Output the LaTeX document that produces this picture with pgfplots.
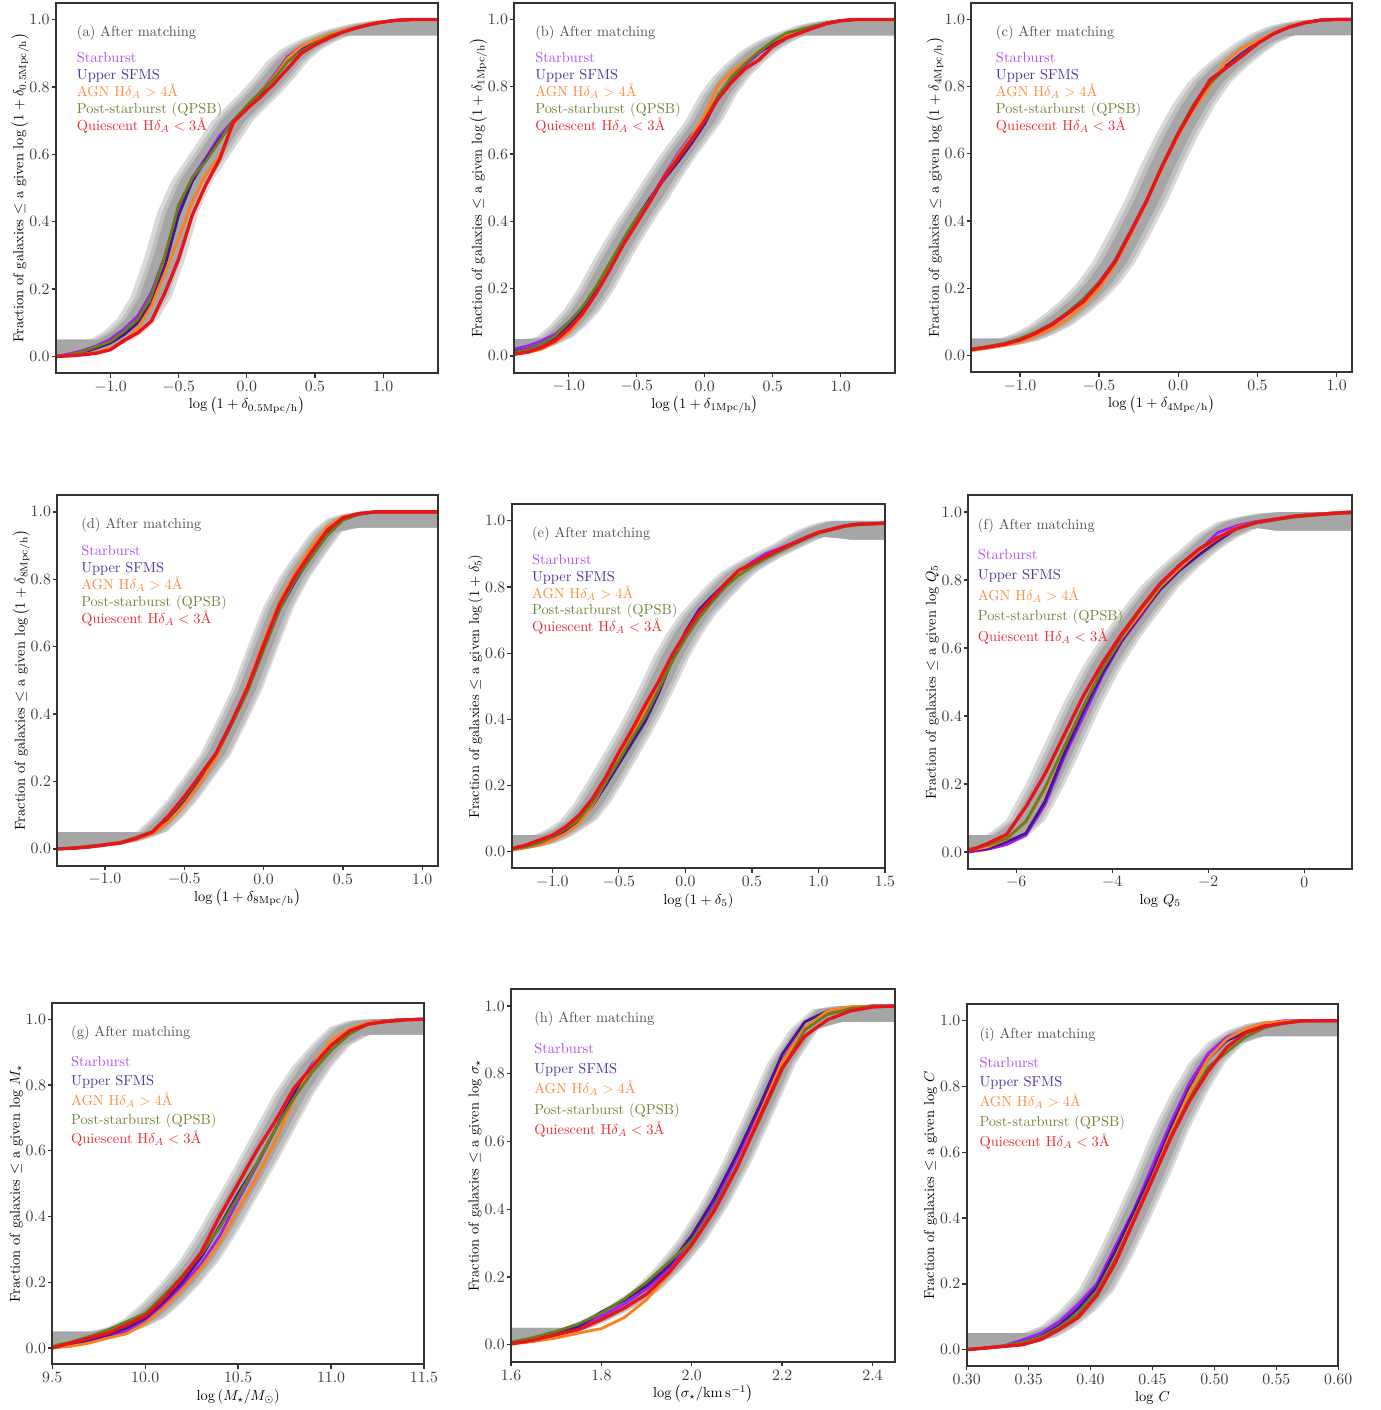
\documentclass[border=0pt]{standalone}
\usepackage{pgfplots}
\pgfplotsset{compat=1.18}
\usepackage{pgfplotstable}

\definecolor{sbC}{HTML}{A020F0}
\definecolor{usC}{HTML}{4A1590}
\definecolor{agnC}{HTML}{FF7F1A}
\definecolor{psbC}{HTML}{6B7D1B}
\definecolor{qC}{HTML}{E8141C}
\definecolor{sbT}{HTML}{B050F0}
\definecolor{usT}{HTML}{5030A0}
\definecolor{agnT}{HTML}{FF8A40}
\definecolor{psbT}{HTML}{748236}
\definecolor{qT}{HTML}{EE2A30}
\definecolor{bandL}{HTML}{D9D9D9}
\definecolor{bandM}{HTML}{BFBFBF}
\definecolor{bandD}{HTML}{A6A6A6}
\definecolor{frameC}{HTML}{333333}
\definecolor{tickT}{HTML}{3C3C3C}
\definecolor{labT}{HTML}{4A4A4A}
\definecolor{annT}{HTML}{505050}

% panel (a)
\pgfplotstableread{
x gu gl sb us agn psb q
-2.0 0.05 0 0 0 0 0 0
-1.4 0.05 0 0 0 0 0 0
-1.3 0.05 0.006 0.008 0.004 0.002 0.005 0.002
-1.2 0.05 0.015 0.018 0.012 0.006 0.015 0.005
-1.1 0.05 0.028 0.032 0.025 0.012 0.03 0.01
-1.0 0.05 0.045 0.052 0.04 0.025 0.045 0.02
-0.9 0.072 0.072 0.082 0.065 0.045 0.075 0.048
-0.8 0.11 0.11 0.12 0.10 0.085 0.11 0.07
-0.7 0.175 0.175 0.19 0.16 0.15 0.18 0.105
-0.6 0.29 0.29 0.30 0.27 0.25 0.30 0.19
-0.5 0.43 0.43 0.44 0.42 0.35 0.45 0.29
-0.4 0.52 0.52 0.53 0.52 0.46 0.53 0.42
-0.3 0.58 0.58 0.59 0.585 0.54 0.58 0.51
-0.2 0.64 0.64 0.655 0.645 0.595 0.64 0.585
-0.1 0.70 0.70 0.70 0.695 0.69 0.70 0.695
0.0 0.74 0.74 0.74 0.735 0.74 0.745 0.735
0.1 0.78 0.78 0.785 0.78 0.785 0.785 0.77
0.2 0.825 0.825 0.835 0.83 0.83 0.825 0.81
0.3 0.875 0.875 0.89 0.885 0.885 0.875 0.855
0.4 0.91 0.91 0.92 0.915 0.92 0.905 0.90
0.5 0.932 0.932 0.935 0.935 0.94 0.93 0.925
0.6 0.95 0.95 0.95 0.95 0.955 0.95 0.945
0.7 0.965 0.95 0.965 0.965 0.967 0.963 0.962
0.8 0.976 0.95 0.976 0.976 0.977 0.975 0.975
0.9 0.986 0.95 0.986 0.986 0.987 0.985 0.985
1.0 0.993 0.95 0.993 0.993 0.994 0.993 0.993
1.1 0.998 0.95 0.998 0.998 0.998 0.998 0.998
1.2 1 0.95 1 1 1 1 1
2.0 1 0.95 1 1 1 1 1
}\tA

% panel (b)
\pgfplotstableread{
x gu gl sb us agn psb q
-2.0 0.05 0 0.02 0.012 0.005 0.01 0.005
-1.4 0.05 0.012 0.02 0.012 0.005 0.01 0.005
-1.3 0.05 0.02 0.03 0.02 0.01 0.018 0.012
-1.2 0.05 0.035 0.045 0.035 0.02 0.035 0.025
-1.1 0.055 0.055 0.065 0.055 0.04 0.06 0.045
-1.0 0.09 0.09 0.10 0.09 0.07 0.10 0.08
-0.9 0.135 0.135 0.14 0.135 0.12 0.145 0.125
-0.8 0.195 0.195 0.20 0.195 0.185 0.205 0.185
-0.7 0.27 0.27 0.27 0.27 0.26 0.275 0.255
-0.6 0.34 0.34 0.34 0.345 0.33 0.345 0.33
-0.5 0.405 0.405 0.405 0.41 0.395 0.41 0.395
-0.4 0.465 0.465 0.465 0.47 0.46 0.465 0.46
-0.3 0.53 0.53 0.535 0.525 0.53 0.53 0.53
-0.2 0.59 0.59 0.60 0.575 0.595 0.59 0.585
-0.1 0.645 0.645 0.655 0.63 0.65 0.645 0.64
0.0 0.70 0.70 0.70 0.69 0.715 0.70 0.70
0.1 0.775 0.775 0.77 0.77 0.805 0.775 0.765
0.2 0.83 0.83 0.825 0.83 0.845 0.83 0.815
0.3 0.87 0.87 0.865 0.87 0.875 0.87 0.855
0.4 0.905 0.905 0.90 0.905 0.905 0.905 0.88
0.5 0.93 0.93 0.93 0.925 0.935 0.935 0.92
0.6 0.95 0.95 0.95 0.945 0.955 0.96 0.945
0.7 0.965 0.95 0.965 0.963 0.97 0.97 0.96
0.8 0.98 0.95 0.98 0.978 0.98 0.98 0.975
0.9 0.99 0.95 0.99 0.99 0.99 0.99 0.988
1.0 0.997 0.95 0.997 0.997 0.997 0.997 0.996
1.1 1 0.95 1 1 1 1 1
2.0 1 0.95 1 1 1 1 1
}\tB

% panel (c)
\pgfplotstableread{
x gu gl sb us agn psb q
-2.0 0.05 0 0.018 0.018 0.015 0.02 0.018
-1.3 0.05 0.018 0.018 0.018 0.015 0.02 0.018
-1.2 0.05 0.025 0.026 0.025 0.022 0.027 0.025
-1.1 0.05 0.033 0.034 0.033 0.03 0.036 0.033
-1.0 0.05 0.045 0.045 0.044 0.04 0.05 0.046
-0.9 0.065 0.065 0.066 0.065 0.058 0.07 0.066
-0.8 0.09 0.09 0.09 0.09 0.08 0.095 0.092
-0.7 0.125 0.125 0.126 0.124 0.108 0.128 0.125
-0.6 0.165 0.165 0.167 0.165 0.15 0.168 0.16
-0.5 0.215 0.215 0.218 0.214 0.20 0.217 0.213
-0.4 0.28 0.28 0.283 0.28 0.27 0.282 0.278
-0.3 0.368 0.368 0.372 0.368 0.36 0.37 0.367
-0.2 0.46 0.46 0.462 0.458 0.455 0.462 0.46
-0.1 0.564 0.564 0.562 0.565 0.56 0.568 0.565
0.0 0.66 0.66 0.658 0.662 0.655 0.665 0.66
0.1 0.744 0.744 0.745 0.748 0.735 0.748 0.742
0.2 0.812 0.812 0.815 0.816 0.80 0.81 0.82
0.3 0.858 0.858 0.86 0.86 0.875 0.855 0.855
0.4 0.896 0.896 0.898 0.897 0.915 0.893 0.89
0.5 0.93 0.93 0.93 0.93 0.935 0.928 0.928
0.6 0.958 0.95 0.958 0.958 0.96 0.956 0.957
0.7 0.978 0.95 0.978 0.978 0.98 0.977 0.977
0.8 0.99 0.95 0.99 0.99 0.99 0.99 0.99
0.9 0.998 0.95 0.998 0.998 0.998 0.998 0.998
1.0 1 0.95 1 1 1 1 1
2.0 1 0.95 1 1 1 1 1
}\tC

% panel (d)
\pgfplotstableread{
x gu gl sb us agn psb q
-2.0 0.05 0 0 0 0 0 0
-1.3 0.05 0 0 0 0 0 0
-1.2 0.05 0.002 0.002 0.002 0.002 0.003 0.002
-1.1 0.05 0.006 0.005 0.006 0.006 0.008 0.006
-1.0 0.05 0.012 0.011 0.012 0.011 0.013 0.012
-0.9 0.05 0.018 0.018 0.018 0.016 0.02 0.018
-0.8 0.05 0.032 0.032 0.03 0.03 0.035 0.032
-0.7 0.05 0.05 0.05 0.048 0.045 0.052 0.05
-0.6 0.095 0.095 0.095 0.09 0.08 0.095 0.098
-0.5 0.15 0.15 0.152 0.145 0.13 0.15 0.155
-0.4 0.215 0.215 0.218 0.21 0.195 0.215 0.218
-0.3 0.28 0.28 0.285 0.275 0.27 0.28 0.283
-0.2 0.375 0.375 0.378 0.372 0.375 0.37 0.378
-0.1 0.475 0.475 0.478 0.472 0.485 0.47 0.48
0.0 0.60 0.60 0.598 0.595 0.615 0.59 0.605
0.1 0.72 0.72 0.72 0.71 0.735 0.71 0.725
0.2 0.807 0.807 0.805 0.795 0.82 0.80 0.81
0.3 0.875 0.875 0.875 0.87 0.895 0.865 0.88
0.4 0.94 0.94 0.94 0.935 0.955 0.93 0.945
0.5 0.98 0.95 0.98 0.978 0.985 0.975 0.982
0.6 0.994 0.95 0.994 0.993 0.996 0.993 0.995
0.7 1 0.95 1 1 1 1 1
2.0 1 0.95 1 1 1 1 1
}\tD

% panel (e)
\pgfplotstableread{
x gu gl sb us agn psb q
-2.0 0.05 0 0.008 0.006 0.005 0.008 0.01
-1.3 0.05 0.008 0.008 0.006 0.005 0.008 0.01
-1.2 0.05 0.015 0.015 0.013 0.012 0.015 0.02
-1.1 0.05 0.025 0.025 0.022 0.02 0.026 0.035
-1.0 0.05 0.043 0.042 0.04 0.035 0.045 0.05
-0.9 0.068 0.068 0.065 0.063 0.055 0.07 0.075
-0.8 0.095 0.095 0.092 0.09 0.085 0.097 0.11
-0.7 0.145 0.145 0.14 0.138 0.14 0.147 0.16
-0.6 0.21 0.21 0.205 0.20 0.21 0.21 0.225
-0.5 0.278 0.278 0.27 0.265 0.28 0.275 0.30
-0.4 0.348 0.348 0.34 0.33 0.355 0.345 0.37
-0.3 0.423 0.423 0.415 0.395 0.43 0.41 0.445
-0.2 0.503 0.503 0.50 0.48 0.51 0.49 0.515
-0.1 0.59 0.59 0.585 0.58 0.595 0.575 0.595
0.0 0.66 0.66 0.655 0.665 0.66 0.645 0.66
0.1 0.718 0.718 0.72 0.73 0.715 0.705 0.72
0.2 0.762 0.762 0.765 0.772 0.76 0.755 0.765
0.3 0.805 0.805 0.805 0.81 0.80 0.80 0.81
0.4 0.843 0.843 0.845 0.845 0.84 0.835 0.85
0.5 0.868 0.868 0.875 0.868 0.868 0.862 0.87
0.6 0.891 0.891 0.90 0.89 0.89 0.885 0.892
0.7 0.91 0.91 0.915 0.91 0.91 0.906 0.912
0.8 0.93 0.93 0.932 0.93 0.93 0.926 0.93
0.9 0.955 0.948 0.95 0.948 0.948 0.945 0.948
1.0 0.975 0.945 0.965 0.965 0.965 0.962 0.965
1.1 0.99 0.94 0.975 0.975 0.975 0.973 0.975
1.2 1 0.94 0.985 0.985 0.985 0.983 0.985
1.3 1 0.94 0.99 0.99 0.99 0.988 0.99
1.4 1 0.94 0.991 0.991 0.992 0.99 0.991
1.5 1 0.94 0.993 0.993 0.996 0.992 0.993
2.2 1 0.94 0.993 0.993 0.996 0.992 0.993
}\tE

% panel (f)
\pgfplotstableread{
x gu gl sb us agn psb q
-9.0 0.05 0 0 0.002 0.004 0.008 0.002
-7.0 0.05 0.005 0 0.002 0.004 0.008 0.002
-6.6 0.05 0.017 0.008 0.01 0.015 0.02 0.025
-6.2 0.05 0.04 0.022 0.03 0.038 0.04 0.052
-5.8 0.092 0.092 0.05 0.055 0.088 0.09 0.133
-5.4 0.195 0.195 0.14 0.15 0.185 0.19 0.23
-5.0 0.315 0.315 0.28 0.29 0.31 0.31 0.345
-4.6 0.438 0.438 0.40 0.415 0.43 0.43 0.46
-4.2 0.545 0.545 0.52 0.527 0.54 0.54 0.557
-3.8 0.633 0.633 0.62 0.623 0.63 0.635 0.642
-3.4 0.708 0.708 0.695 0.70 0.705 0.715 0.718
-3.0 0.78 0.78 0.775 0.772 0.78 0.785 0.79
-2.6 0.836 0.836 0.835 0.828 0.835 0.845 0.843
-2.2 0.885 0.885 0.885 0.873 0.885 0.89 0.89
-1.8 0.935 0.923 0.94 0.915 0.923 0.925 0.925
-1.4 0.97 0.95 0.96 0.952 0.955 0.95 0.952
-1.0 0.985 0.942 0.972 0.968 0.97 0.968 0.97
-0.6 0.995 0.942 0.98 0.978 0.979 0.977 0.979
-0.2 1 0.942 0.988 0.988 0.988 0.985 0.988
0.2 1 0.942 0.993 0.993 0.993 0.99 0.992
0.6 1 0.942 0.997 0.997 0.998 0.995 0.996
1.0 1 0.942 1 1 1 0.997 1
3.0 1 0.942 1 1 1 0.997 1
}\tF

% panel (g)
\pgfplotstableread{
x gu gl sb us agn psb q
8.5 0.05 0 0 0 0 0.005 0
9.5 0.05 0.002 0 0 0 0.005 0
9.6 0.05 0.012 0.01 0.012 0.005 0.018 0.015
9.7 0.05 0.025 0.02 0.025 0.015 0.035 0.03
9.8 0.05 0.042 0.035 0.04 0.03 0.055 0.045
9.9 0.062 0.062 0.05 0.06 0.043 0.08 0.07
10.0 0.09 0.09 0.08 0.09 0.075 0.105 0.097
10.1 0.14 0.14 0.128 0.14 0.122 0.16 0.15
10.2 0.2 0.2 0.19 0.20 0.178 0.22 0.215
10.3 0.27 0.27 0.255 0.275 0.243 0.285 0.29
10.4 0.36 0.36 0.34 0.37 0.32 0.365 0.40
10.5 0.46 0.46 0.45 0.47 0.42 0.46 0.50
10.6 0.56 0.56 0.555 0.56 0.52 0.56 0.60
10.7 0.665 0.665 0.665 0.665 0.63 0.665 0.69
10.8 0.77 0.77 0.775 0.77 0.755 0.76 0.79
10.9 0.855 0.855 0.865 0.86 0.86 0.84 0.856
11.0 0.92 0.92 0.92 0.92 0.935 0.905 0.92
11.1 0.975 0.95 0.965 0.96 0.97 0.955 0.965
11.2 0.995 0.95 0.99 0.988 0.99 0.985 0.985
11.3 1 0.95 0.996 0.996 0.996 0.995 0.993
11.4 1 0.95 0.999 0.999 0.999 0.999 0.998
11.5 1 0.95 1 1 1 1 1
12.5 1 0.95 1 1 1 1 1
}\tG

% panel (h)
\pgfplotstableread{
x gu gl sb us agn psb q
1.3 0.05 0 0.004 0.005 0.002 0.008 0.003
1.6 0.05 0.005 0.004 0.005 0.002 0.008 0.003
1.65 0.05 0.016 0.015 0.017 0.01 0.022 0.014
1.7 0.05 0.032 0.03 0.034 0.02 0.04 0.03
1.75 0.05 0.05 0.05 0.054 0.035 0.062 0.045
1.8 0.08 0.08 0.085 0.097 0.048 0.094 0.075
1.85 0.115 0.115 0.12 0.131 0.08 0.135 0.108
1.9 0.16 0.16 0.165 0.175 0.133 0.185 0.15
1.95 0.225 0.225 0.225 0.234 0.21 0.245 0.214
2.0 0.305 0.305 0.31 0.323 0.30 0.307 0.295
2.05 0.41 0.41 0.42 0.432 0.40 0.405 0.396
2.1 0.535 0.535 0.55 0.562 0.525 0.527 0.522
2.15 0.68 0.68 0.69 0.705 0.68 0.664 0.67
2.2 0.83 0.83 0.84 0.857 0.835 0.811 0.817
2.25 0.93 0.93 0.935 0.953 0.935 0.929 0.911
2.3 0.99 0.95 0.975 0.985 0.985 0.975 0.959
2.35 1 0.95 0.993 0.995 0.998 0.992 0.985
2.4 1 0.95 1 1 1 1 0.997
2.45 1 0.95 1 1 1 1 1
2.75 1 0.95 1 1 1 1 1
}\tH

% panel (i)
\pgfplotstableread{
x gu gl sb us agn psb q
0.2 0.05 0 0 0 0 0.002 0
0.300 0.05 0.001 0 0 0 0.002 0
0.315 0.05 0.005 0.005 0.005 0.005 0.005 0.005
0.330 0.05 0.011 0.012 0.01 0.01 0.012 0.01
0.345 0.05 0.022 0.03 0.022 0.02 0.022 0.015
0.360 0.05 0.039 0.05 0.04 0.035 0.038 0.031
0.375 0.072 0.072 0.086 0.075 0.068 0.068 0.062
0.390 0.118 0.118 0.138 0.125 0.11 0.11 0.098
0.405 0.18 0.18 0.20 0.19 0.175 0.175 0.164
0.420 0.285 0.285 0.314 0.30 0.28 0.275 0.264
0.435 0.405 0.405 0.425 0.42 0.40 0.395 0.392
0.450 0.53 0.53 0.56 0.54 0.525 0.52 0.518
0.465 0.665 0.665 0.692 0.675 0.66 0.65 0.646
0.480 0.78 0.78 0.812 0.795 0.785 0.765 0.757
0.495 0.875 0.875 0.90 0.885 0.885 0.86 0.847
0.510 0.935 0.93 0.95 0.94 0.945 0.905 0.919
0.525 0.97 0.95 0.972 0.965 0.975 0.95 0.963
0.540 0.99 0.95 0.99 0.987 0.993 0.978 0.983
0.555 1 0.95 1 0.997 0.998 0.993 0.992
0.570 1 0.95 1 1 1 0.998 1
0.585 1 0.95 1 1 1 1 1
0.600 1 0.95 1 1 1 1 1
0.7 1 0.95 1 1 1 1 1
}\tI

% bands: stacked fills from upper edges (shifted left) down to lower edges (shifted right)
\newcommand{\bands}[4]{%
  \addplot[fill=bandL,draw=none] table[x expr=\thisrow{x}-#4,y=gu]{#1} \closedcycle;
  \addplot[fill=bandM,draw=none] table[x expr=\thisrow{x}-#3,y=gu]{#1} \closedcycle;
  \addplot[fill=bandD,draw=none] table[x expr=\thisrow{x}-#2,y=gu]{#1} \closedcycle;
  \addplot[fill=bandM,draw=none] table[x expr=\thisrow{x}+#2,y=gl]{#1} \closedcycle;
  \addplot[fill=bandL,draw=none] table[x expr=\thisrow{x}+#3,y=gl]{#1} \closedcycle;
  \addplot[fill=white,draw=white,line width=1.2pt] table[x expr=\thisrow{x}+#4,y=gl]{#1} \closedcycle;
}
\newcommand{\curves}[1]{%
  \addplot[sbC,line width=1.9pt,line join=round] table[x=x,y=sb]{#1};
  \addplot[usC,line width=1.9pt,line join=round] table[x=x,y=us]{#1};
  \addplot[agnC,line width=1.9pt,line join=round] table[x=x,y=agn]{#1};
  \addplot[psbC,line width=1.9pt,line join=round] table[x=x,y=psb]{#1};
  \addplot[qC,line width=2.3pt,line join=round] table[x=x,y=q]{#1};
}
\newcommand{\ptext}[5]{%
  \node[anchor=base west,inner sep=0pt,text=annT,xshift=#2pt,yshift=-#3pt] at (rel axis cs:0,1) {(#1) After matching};
  \node[anchor=base west,inner sep=0pt,text=sbT,xshift=#2pt,yshift={-(#4)*1pt}] at (rel axis cs:0,1) {Starburst};
  \node[anchor=base west,inner sep=0pt,text=usT,xshift=#2pt,yshift={-(#4+#5)*1pt}] at (rel axis cs:0,1) {Upper SFMS};
  \node[anchor=base west,inner sep=0pt,text=agnT,xshift=#2pt,yshift={-(#4+2*#5)*1pt}] at (rel axis cs:0,1) {AGN H$\delta_A>4$\AA};
  \node[anchor=base west,inner sep=0pt,text=psbT,xshift=#2pt,yshift={-(#4+3*#5)*1pt}] at (rel axis cs:0,1) {Post-starburst (QPSB)};
  \node[anchor=base west,inner sep=0pt,text=qT,xshift=#2pt,yshift={-(#4+4*#5)*1pt}] at (rel axis cs:0,1) {Quiescent H$\delta_A<3$\AA};
}

\pgfplotsset{
  x1/.style={xticklabel style={/pgf/number format/.cd,fixed,fixed zerofill,precision=1}},
  cdf/.style={
    scale only axis, anchor=south west, axis on top,
    ymin=-0.05, ymax=1.05,
    ytick={0,0.2,0.4,0.6,0.8,1},
    yticklabel style={inner xsep=1.2pt,/pgf/number format/.cd,fixed,fixed zerofill,precision=1},
    tick align=outside, tick pos=left,
    major tick length=3pt, minor tick num=0,
    major tick style={draw=frameC,line width=0.9pt},
    axis line style={draw=frameC,line width=1.4pt},
    tick label style={font=\fontsize{10.95}{13}\selectfont,text=tickT},
    label style={text=labT},
    every axis y label/.style={at={(axis description cs:0,0.5)},xshift=-25pt,rotate=90,anchor=center,inner sep=0pt},
    every axis x label/.style={at={(axis description cs:0.5,0)},yshift=-22.2pt,anchor=center,inner sep=0pt},
    xticklabel style={anchor=center,yshift=-6.35pt},
  }
}

\begin{document}
\begin{tikzpicture}
\useasboundingbox (0,0) rectangle (955.65pt,-976.4pt);

% (a)
\begin{axis}[cdf,x1,at={(38.78pt,-258.5pt)},width=264.3pt,height=256.6pt,
  xmin=-1.4,xmax=1.4,xtick={-1,-0.5,0,0.5,1},
  xlabel={$\log\left(1+\delta_{0.5\mathrm{Mpc/h}}\right)$},
  ylabel={Fraction of galaxies $\leq$ a given $\log\left(1+\delta_{0.5\mathrm{Mpc/h}}\right)$}]
\bands{\tA}{0.09}{0.12}{0.155}
\curves{\tA}
\ptext{a}{14.3}{23.3}{41.7}{11.7}
\end{axis}

% (b)
\begin{axis}[cdf,x1,at={(356.2pt,-258.1pt)},width=263.6pt,height=256.2pt,
  xmin=-1.4,xmax=1.4,xtick={-1,-0.5,0,0.5,1},
  xlabel={$\log\left(1+\delta_{1\mathrm{Mpc/h}}\right)$},
  ylabel={Fraction of galaxies $\leq$ a given $\log\left(1+\delta_{1\mathrm{Mpc/h}}\right)$}]
\bands{\tB}{0.08}{0.11}{0.14}
\curves{\tB}
\ptext{b}{14.3}{23.3}{41.7}{11.7}
\end{axis}

% (c)
\begin{axis}[cdf,x1,at={(672.6pt,-257.8pt)},width=263.4pt,height=256.0pt,
  xmin=-1.307,xmax=1.095,xtick={-1,-0.5,0,0.5,1},
  xlabel={$\log\left(1+\delta_{4\mathrm{Mpc/h}}\right)$},
  ylabel={Fraction of galaxies $\leq$ a given $\log\left(1+\delta_{4\mathrm{Mpc/h}}\right)$}]
\bands{\tC}{0.08}{0.11}{0.14}
\curves{\tC}
\ptext{c}{16.9}{23.3}{41.7}{11.7}
\end{axis}

% (d)
\begin{axis}[cdf,x1,at={(39.68pt,-599.5pt)},width=263.4pt,height=256.7pt,
  xmin=-1.30,xmax=1.097,xtick={-1,-0.5,0,0.5,1},
  xlabel={$\log\left(1+\delta_{8\mathrm{Mpc/h}}\right)$},
  ylabel={Fraction of galaxies $\leq$ a given $\log\left(1+\delta_{8\mathrm{Mpc/h}}\right)$}]
\bands{\tD}{0.055}{0.08}{0.1}
\curves{\tD}
\ptext{d}{16.4}{23.5}{41.8}{11.8}
\end{axis}

% (e)
\begin{axis}[cdf,x1,at={(354.35pt,-601.3pt)},width=258.5pt,height=252.1pt,
  xmin=-1.305,xmax=1.5,xtick={-1,-0.5,0,0.5,1,1.5},
  xlabel={$\log\left(1+\delta_{5}\right)$},
  ylabel={Fraction of galaxies $\leq$ a given $\log\left(1+\delta_{5}\right)$}]
\bands{\tE}{0.08}{0.11}{0.14}
\curves{\tE}
\ptext{e}{13.9}{23.3}{41.8}{11.6}
\end{axis}

% (f)
\begin{axis}[cdf,at={(670.5pt,-601.8pt)},width=265.9pt,height=259.0pt,
  xmin=-7,xmax=1,xtick={-6,-4,-2,0},
  xlabel={$\log\,Q_5$},
  ylabel={Fraction of galaxies $\leq$ a given $\log\,Q_5$}]
\bands{\tF}{0.25}{0.33}{0.42}
\curves{\tF}
\ptext{f}{6.5}{24.0}{44.7}{14.1}
\end{axis}

% (g)
\begin{axis}[cdf,x1,at={(36.2pt,-944.8pt)},width=257.4pt,height=250.4pt,
  xmin=9.5,xmax=11.5,xtick={9.5,10,10.5,11,11.5},
  xlabel={$\log\left(M_\star/M_\odot\right)$},
  ylabel={Fraction of galaxies $\leq$ a given $\log\,M_\star$}]
\bands{\tG}{0.065}{0.09}{0.11}
\curves{\tG}
\ptext{g}{12.9}{23.3}{44.0}{13.4}
\end{axis}

% (h)
\begin{axis}[cdf,x1,at={(353.9pt,-943.0pt)},width=265.9pt,height=258.1pt,
  xmin=1.6,xmax=2.45,xtick={1.6,1.8,2.0,2.2,2.4},
  xlabel={$\log\left(\sigma_\star/\mathrm{km\,s^{-1}}\right)$},
  ylabel={Fraction of galaxies $\leq$ a given $\log\,\sigma_\star$}]
\bands{\tH}{0.02}{0.026}{0.033}
\curves{\tH}
\ptext{h}{15.9}{23.5}{44.3}{14.1}
\end{axis}

% (i)
\begin{axis}[cdf,at={(669.4pt,-946.0pt)},width=257.3pt,height=250.5pt,
  xmin=0.3,xmax=0.6,xtick={0.3,0.35,0.4,0.45,0.5,0.55,0.6},
  xticklabel style={/pgf/number format/.cd,fixed,fixed zerofill,precision=2},
  xlabel={$\log\,C$},
  ylabel={Fraction of galaxies $\leq$ a given $\log\,C$}]
\bands{\tI}{0.009}{0.012}{0.015}
\curves{\tI}
\ptext{i}{8.7}{23.3}{43.4}{13.7}
\end{axis}
\end{tikzpicture}
\end{document}
